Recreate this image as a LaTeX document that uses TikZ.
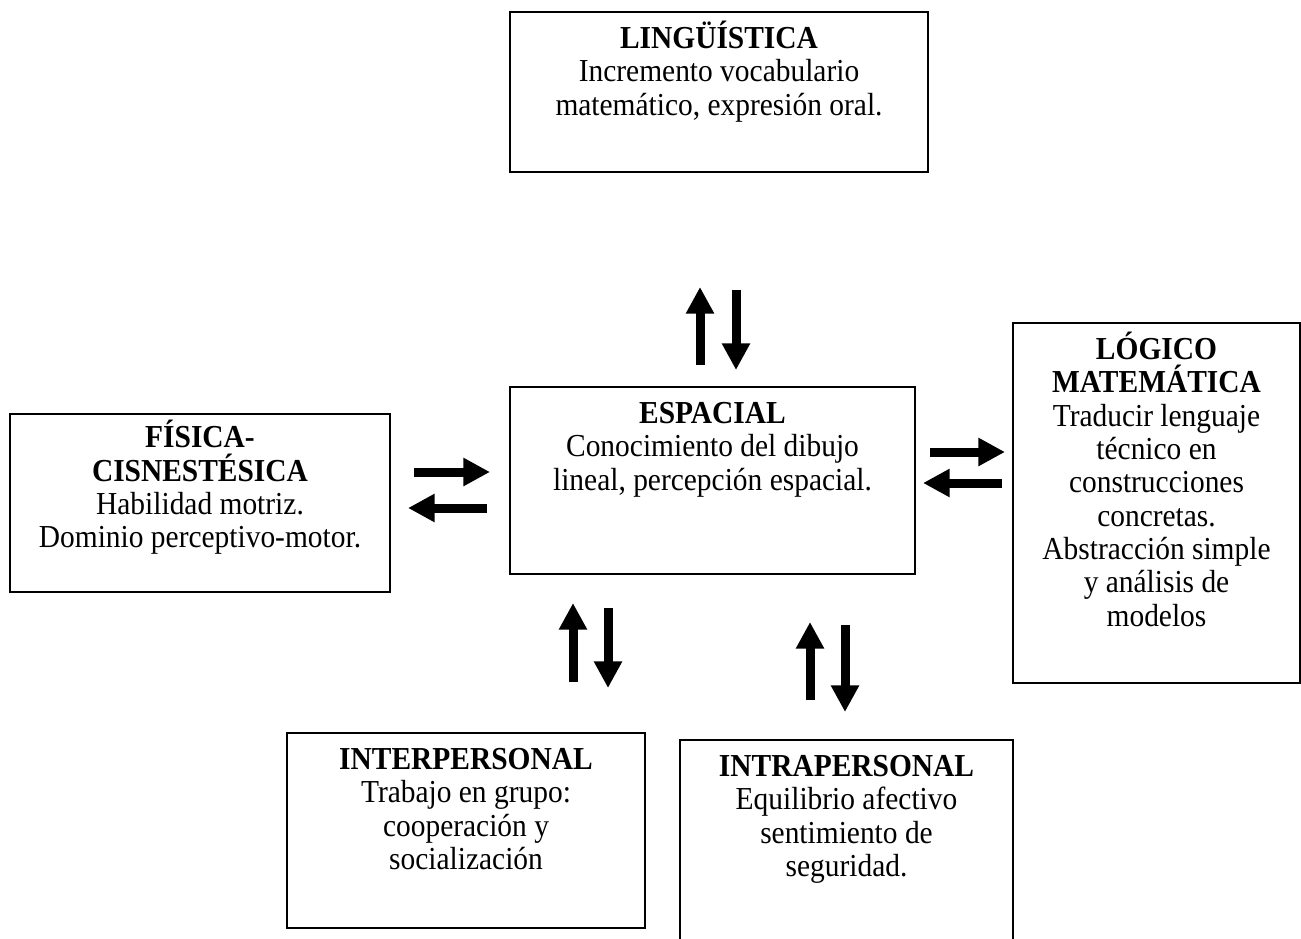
\documentclass[tikz,border=0pt]{standalone}
\usepackage{fontspec}
\setmainfont{Liberation Serif}[FakeStretch = 0.92]
\usetikzlibrary{arrows.meta}

\newcommand{\lineas}[1]{\parbox[t]{330pt}{\centering\lineskiplimit=-100pt #1}}

\begin{document}
\begin{tikzpicture}[x = 0.75pt, y = -0.75pt]
    \tikzset{caja/.style = {draw, line width = 1.4pt, rectangle, inner sep = 0pt},
             texto/.style = {anchor = base, inner sep = 0pt, yshift = -28pt,
                             font = \fontsize{24}{25}\selectfont},
             flecha/.style = {line width = 6.75pt, -{Triangle[width = 20pt, length = 20pt]}}}
    \clip (0,0) rectangle (1301,938);
    % cajas
    \node[caja, minimum width = 313.5pt, minimum height = 120pt] (ling) at (719,92) {};
    \node[caja, minimum width = 303.75pt, minimum height = 140.25pt] (esp) at (712.5,480.5) {};
    \node[caja, minimum width = 285pt, minimum height = 133.5pt] (fis) at (200,503) {};
    \node[caja, minimum width = 215.25pt, minimum height = 270pt] (log) at (1156.5,503) {};
    \node[caja, minimum width = 268.5pt, minimum height = 146.25pt] (inter) at (466,830.5) {};
    \node[caja, minimum width = 249.75pt, minimum height = 165pt] (intra) at (846.5,850) {};
    % textos
    \node[texto] (lingt) at (ling.north) {\lineas{\textbf{LINGÜÍSTICA}\\Incremento vocabulario\\matemático, expresión oral.}};
    \node[texto] (espt) at (esp.north) {\lineas{\textbf{ESPACIAL}\\Conocimiento del dibujo\\lineal, percepción espacial.}};
    \node[texto, yshift = 2pt] (fist) at (fis.north) {\lineas{\textbf{FÍSICA-}\\\textbf{CISNESTÉSICA}\\Habilidad motriz.\\Dominio perceptivo-motor.}};
    \node[texto] (logt) at (log.north) {\lineas{\textbf{LÓGICO}\\\textbf{MATEMÁTICA}\\Traducir lenguaje\\técnico en\\construcciones\\concretas.\\Abstracción simple\\y análisis de\\modelos}};
    \node[texto] (intert) at (inter.north) {\lineas{\textbf{INTERPERSONAL}\\Trabajo en grupo:\\cooperación y\\socialización}};
    \node[texto] (intrat) at (intra.north) {\lineas{\textbf{INTRAPERSONAL}\\Equilibrio afectivo\\sentimiento de\\seguridad.}};
    % extremos de las flechas
    \coordinate (a1) at (700,365);  \coordinate (b1) at (700,287);
    \coordinate (a2) at (736,290);  \coordinate (b2) at (736,370);
    \coordinate (a3) at (414,472);  \coordinate (b3) at (490,472);
    \coordinate (a4) at (487,508);  \coordinate (b4) at (408,508);
    \coordinate (a5) at (930,452);  \coordinate (b5) at (1005,452);
    \coordinate (a6) at (1002,483); \coordinate (b6) at (923,483);
    \coordinate (a7) at (573,682);  \coordinate (b7) at (573,603);
    \coordinate (a8) at (608,608);  \coordinate (b8) at (608,688);
    \coordinate (a9) at (810,700);  \coordinate (b9) at (810,622);
    \coordinate (a10) at (845,625); \coordinate (b10) at (845,712);
    \foreach \i in {1,...,10}
        \draw[flecha] (a\i) -- (b\i);
\end{tikzpicture}
\end{document}
